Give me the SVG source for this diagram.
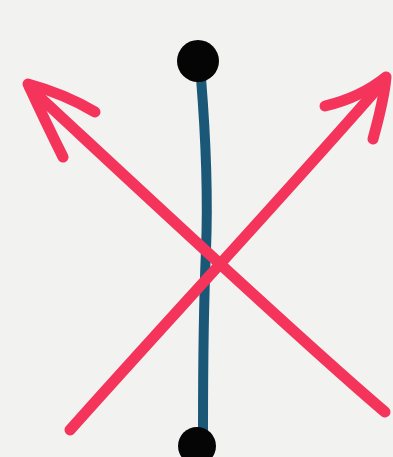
<svg xmlns="http://www.w3.org/2000/svg" width="393" height="457" viewBox="0 0 393 457">
<style>
.red{fill:none;stroke:#f4345a;stroke-width:11;stroke-linecap:round;stroke-linejoin:round}
.blue{fill:none;stroke:#1b5878;stroke-width:10;stroke-linecap:round}
.dot{fill:#050505}
</style>
<rect width="393" height="457" fill="#f2f2f1"/>
<g id="axis">
<path class="blue" d="M201 78 C206 140 208 200 206 250 C203 320 203 380 203 430"/>
<circle id="top" class="dot" cx="198" cy="61" r="21"/>
<circle id="bottom" class="dot" cx="197" cy="446" r="19"/>
</g>
<g id="arrows">
<path id="up-right" class="red" d="M70 430 C150 340 280 200 385 80"/>
<path class="red" d="M325 106 C350 100 370 90 386 77 C384 100 378 120 373 139"/>
<path id="up-left" class="red" d="M385 412 C300 340 140 190 30 88"/>
<path class="red" d="M95 112 C75 100 50 90 28 84 C40 110 52 135 63 157"/>
</g>
</svg>
